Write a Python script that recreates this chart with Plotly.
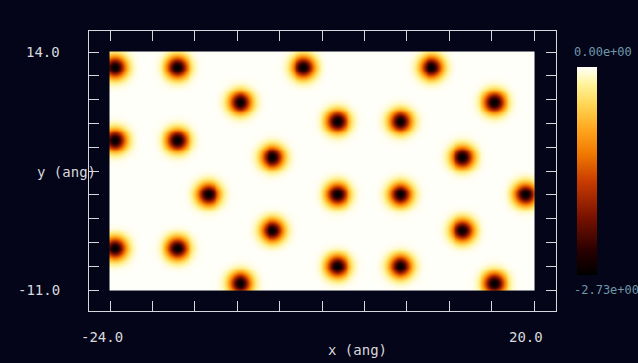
import numpy as np
import plotly.graph_objects as go

# ---- data ----
atom_x = [-23.5, -17.05, -3.97, 9.31,
          -10.51, 15.85,
          -0.44, 6.10,
          -23.5, -17.05,
          -7.19, 12.53,
          -13.83, -0.44, 6.10, 19.07,
          -7.19, 12.53,
          -23.5, -17.05,
          -0.44, 6.10,
          -10.51, 15.85]
atom_y = [12.42, 12.42, 12.42, 12.42,
          8.75, 8.75,
          6.75, 6.75,
          4.76, 4.76,
          2.97, 2.97,
          -0.92, -0.92, -0.92, -0.92,
          -4.70, -4.70,
          -6.59, -6.59,
          -8.48, -8.48,
          -10.26, -10.26]
z_min = -2.73
z_max = 0.0
x_range = [-24.0, 20.0]
y_range = [-11.0, 14.0]
x_tick_labels = ["-24.0", "20.0"]
y_tick_labels = ["14.0", "-11.0"]
cbar_labels = ["0.00e+00", "-2.73e+00"]
x_title = "x (ang)"
y_title = "y (ang)"

# ---- field on a grid ----
gx = np.linspace(x_range[0], x_range[1], 441)
gy = np.linspace(y_range[0], y_range[1], 251)
X, Y = np.meshgrid(gx, gy)
sigma = 0.78
Z = np.zeros_like(X)
for ax_, ay_ in zip(atom_x, atom_y):
    Z += np.exp(-((X - ax_) ** 2 + (Y - ay_) ** 2) / (2 * sigma ** 2))
Z = np.maximum(z_min * Z, z_min)

W, H = 638, 363
bg = "#05051a"
fg = "#d8d8dc"
cb_col = "#6f98a8"

colorscale = [
    [0.0, "#000000"], [0.12, "#2a0000"], [0.28, "#7a1200"], [0.45, "#c83c00"],
    [0.58, "#f07800"], [0.70, "#ffa61e"], [0.82, "#ffd654"], [0.92, "#fff49e"],
    [1.0, "#fffffa"],
]

# frame & data pixel boxes
fx0, fx1, fy0, fy1 = 89, 556, 31, 311
dx0, dx1, dy0, dy1 = 110, 534, 52, 290
sx = (dx1 - dx0) / (x_range[1] - x_range[0])
sy = (dy1 - dy0) / (y_range[1] - y_range[0])
ax_range = [x_range[0] - (dx0 - fx0) / sx, x_range[1] + (fx1 - dx1) / sx]
ay_range = [y_range[0] - (fy1 - dy1) / sy, y_range[1] + (dy0 - fy0) / sy]

fig = go.Figure(go.Heatmap(
    x=gx, y=gy, z=Z, zmin=z_min, zmax=z_max, colorscale=colorscale,
    zsmooth="best", hoverinfo="skip",
    colorbar=dict(thickness=20, lenmode="pixels", len=208,
                  x=577 / W, xanchor="left", y=1 - 171 / H, yanchor="middle",
                  xpad=0, ypad=0, outlinewidth=0, showticklabels=False, ticks=""),
))

xt = list(np.linspace(x_range[0], x_range[1], 11))
yt = list(np.linspace(y_range[0], y_range[1], 11))
fig.update_xaxes(domain=[fx0 / W, fx1 / W], range=ax_range, showgrid=False, zeroline=False,
                 showline=True, linecolor=fg, linewidth=1, mirror="allticks",
                 ticks="inside", ticklen=10, tickcolor=fg, tickvals=xt,
                 showticklabels=False)
fig.update_yaxes(domain=[1 - fy1 / H, 1 - fy0 / H], range=ay_range, showgrid=False, zeroline=False,
                 showline=True, linecolor=fg, linewidth=1, mirror="allticks",
                 ticks="inside", ticklen=10, tickcolor=fg, tickvals=yt,
                 showticklabels=False)

font = dict(family="DejaVu Sans Mono", size=14, color=fg)
ann = []
for v, t in zip(x_range, x_tick_labels):
    ann.append(dict(x=v, y=1 - 337 / H, xref="x", yref="paper", text=t, showarrow=False,
                    font=font, xanchor="center", yanchor="middle", xshift=-8))
for v, t in zip([y_range[1], y_range[0]], y_tick_labels):
    ann.append(dict(x=62 / W, y=v, xref="paper", yref="y", text=t, showarrow=False,
                    font=font, xanchor="right", yanchor="middle"))
ann.append(dict(x=357 / W, y=1 - 350 / H, xref="paper", yref="paper", text=x_title,
                showarrow=False, font=font, xanchor="center", yanchor="middle"))
ann.append(dict(x=66 / W, y=1 - 172 / H, xref="paper", yref="paper", text=y_title,
                showarrow=False, font=font, xanchor="center", yanchor="middle"))
cfont = dict(family="DejaVu Sans Mono", size=12, color=cb_col)
ann.append(dict(x=572 / W, y=1 - 52 / H, xref="paper", yref="paper", text=cbar_labels[0],
                showarrow=False, font=cfont, xanchor="left", yanchor="middle"))
ann.append(dict(x=572 / W, y=1 - 290 / H, xref="paper", yref="paper", text=cbar_labels[1],
                showarrow=False, font=cfont, xanchor="left", yanchor="middle"))

fig.update_layout(width=W, height=H, margin=dict(l=0, r=0, t=0, b=0),
                  paper_bgcolor=bg, plot_bgcolor=bg, annotations=ann, showlegend=False)
fig.write_html("out.html", config={"displayModeBar": False},
               post_script="document.body.style.margin='0px';document.body.style.background='" + bg + "';")
